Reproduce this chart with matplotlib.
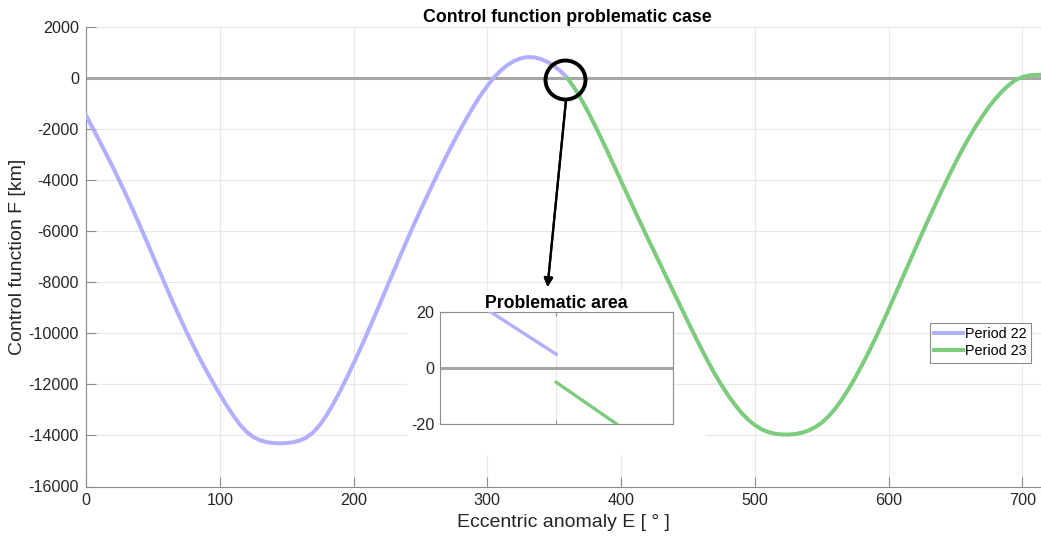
import matplotlib
matplotlib.use("Agg")
import matplotlib.pyplot as plt
from matplotlib.patches import Rectangle, Ellipse

plt.rcParams['font.family'] = ['Liberation Sans', 'DejaVu Sans']
plt.rcParams['axes.unicode_minus'] = False

# values (eccentric anomaly in deg, F in km)
E_22 = [0, 5, 10, 15, 20, 25, 30, 35, 40, 45, 50, 55, 60, 65, 70, 75, 80, 85,
        90, 95, 100, 105, 110, 115, 120, 125, 130, 135, 140, 145, 150, 155,
        160, 165, 170, 175, 180, 185, 190, 195, 200, 205, 210, 215, 220, 225,
        230, 235, 240, 245, 250, 255, 260, 265, 270, 275, 280, 285, 290, 295,
        300, 305, 310, 315, 320, 325, 330, 335, 340, 345, 350, 355, 359, 360]
F_22 = [-1450, -1950, -2450, -2955, -3475, -4015, -4572, -5147, -5740, -6345,
        -6957, -7572, -8182, -8780, -9360, -9920, -10460, -10975, -11465,
        -11930, -12380, -12810, -13210, -13570, -13855, -14055, -14185,
        -14260, -14298, -14308, -14298, -14263, -14193, -14073, -13873,
        -13573, -13193, -12748, -12258, -11733, -11183, -10613, -10023, -9418,
        -8803, -8183, -7563, -6948, -6343, -5753, -5178, -4618, -4063, -3518,
        -2988, -2478, -1993, -1523, -1078, -668, -298, 32, 302, 517, 677, 782,
        832, 822, 758, 644, 481, 268, 62, 5]

E_23 = [360, 361, 365, 370, 375, 380, 385, 390, 395, 400, 405, 410, 415, 420,
        425, 430, 435, 440, 445, 450, 455, 460, 465, 470, 475, 480, 485, 490,
        495, 500, 505, 510, 515, 520, 525, 530, 535, 540, 545, 550, 555, 560,
        565, 570, 575, 580, 585, 590, 595, 600, 605, 610, 615, 620, 625, 630,
        635, 640, 645, 650, 655, 660, 665, 670, 675, 680, 685, 690, 695, 700,
        705, 710, 714]
F_23 = [-5, -66, -365, -795, -1275, -1790, -2330, -2885, -3450, -4020, -4590,
        -5155, -5715, -6270, -6815, -7360, -7905, -8450, -8995, -9535, -10070,
        -10595, -11100, -11575, -12015, -12420, -12785, -13105, -13375, -13590,
        -13755, -13865, -13930, -13960, -13965, -13945, -13895, -13810, -13680,
        -13500, -13260, -12960, -12600, -12190, -11740, -11260, -10750, -10210,
        -9650, -9070, -8475, -7875, -7275, -6680, -6090, -5510, -4940, -4380,
        -3835, -3310, -2810, -2340, -1900, -1495, -1125, -795, -505, -260, -65,
        50, 110, 135, 138]

labels = ['Period 22', 'Period 23']
c22 = '#b0b0ff'
c23 = '#7dcb7d'
c_zero = '#a6a6a6'
c_axis = '#8c8c8c'
c_txt = '#262626'

W, H = 1041, 536
fig = plt.figure(figsize=(W / 100, H / 100), dpi=100)


def fx(px):
    return px / W


def fy(py):
    return 1 - py / H


ax = fig.add_axes([fx(86), fy(486.5), fx(1041 - 86), (486.5 - 27.3) / H])
ax.axhline(0, color=c_zero, lw=2.2, zorder=2)
ax.plot(E_22, F_22, color=c22, lw=2.9, label=labels[0], zorder=3)
ax.plot(E_23, F_23, color=c23, lw=2.9, label=labels[1], zorder=3)
ax.set_xlim(0, 714)
ax.set_ylim(-16000, 2000)
ax.set_xticks(range(0, 701, 100))
ax.set_yticks(range(-16000, 2001, 2000))
ax.grid(True, color='#e8e8e8', lw=0.8)
ax.set_axisbelow(True)
for s in ['top', 'right']:
    ax.spines[s].set_visible(False)
for s in ['left', 'bottom']:
    ax.spines[s].set_color(c_axis)
ax.tick_params(direction='in', length=7, width=0.8, color=c_axis,
               labelsize=11.6, labelcolor=c_txt, pad=5)
ax.set_xlabel('Eccentric anomaly E [ ° ]', fontsize=14, color=c_txt, labelpad=4)
ax.set_ylabel('Control function F [km]', fontsize=14, color=c_txt, labelpad=2)
ax.set_title('Control function problematic case', fontsize=12.8,
             fontweight='bold', pad=4, x=0.504)

leg = ax.legend(loc='upper right', bbox_to_anchor=(fx(1031), fy(323)),
                bbox_transform=fig.transFigure, borderaxespad=0,
                fontsize=10.4, fancybox=False, edgecolor=c_axis,
                framealpha=1, handlelength=2.0, handletextpad=0.15,
                borderpad=0.3, labelspacing=0.2)
leg.get_frame().set_linewidth(0.8)

# white background around the inset: hides the grid, not the curves
for (x0, y0, x1, y1) in [(407, 290, 673, 433), (407, 433, 706, 455)]:
    ax.add_patch(Rectangle((fx(x0), fy(y1)), fx(x1 - x0), (y1 - y0) / H,
                           transform=fig.transFigure, facecolor='white',
                           edgecolor='none', zorder=1, clip_on=False))

# inset
axi = fig.add_axes([fx(440), fy(424.3), fx(232.5), 112 / H], zorder=2)
axi.axhline(0, color=c_zero, lw=2.2, zorder=2)
axi.plot(E_22, F_22, color=c22, lw=2.4, zorder=3)
axi.plot(E_23, F_23, color=c23, lw=2.4, zorder=3)
axi.set_xlim(359.53, 360.47)
axi.set_ylim(-20, 20)
axi.set_xticks([360])
axi.set_xticklabels([])
axi.set_yticks([-20, 0, 20])
axi.grid(True, color='#e8e8e8', lw=0.8)
axi.set_axisbelow(True)
for s in axi.spines.values():
    s.set_color(c_axis)
axi.tick_params(direction='in', length=3, width=0.8, color=c_axis,
                labelsize=11.6, labelcolor=c_txt, top=True, right=True, pad=4)
axi.set_title('Problematic area', fontsize=12.7, fontweight='bold', pad=1)

# circle and arrow marking the problem
fig.add_artist(Ellipse((fx(565.5), fy(80)), fx(40), 39 / H,
                       transform=fig.transFigure, fill=False,
                       edgecolor='black', lw=2.8, zorder=4))
fig.add_artist(plt.annotate('', xy=(fx(547.5), fy(287)),
                            xytext=(fx(566), fy(100)),
                            xycoords='figure fraction',
                            textcoords='figure fraction',
                            arrowprops=dict(arrowstyle='-|>', lw=1.6,
                                            color='black', mutation_scale=13,
                                            shrinkA=0, shrinkB=0)))

fig.savefig('out.png', dpi=100)
